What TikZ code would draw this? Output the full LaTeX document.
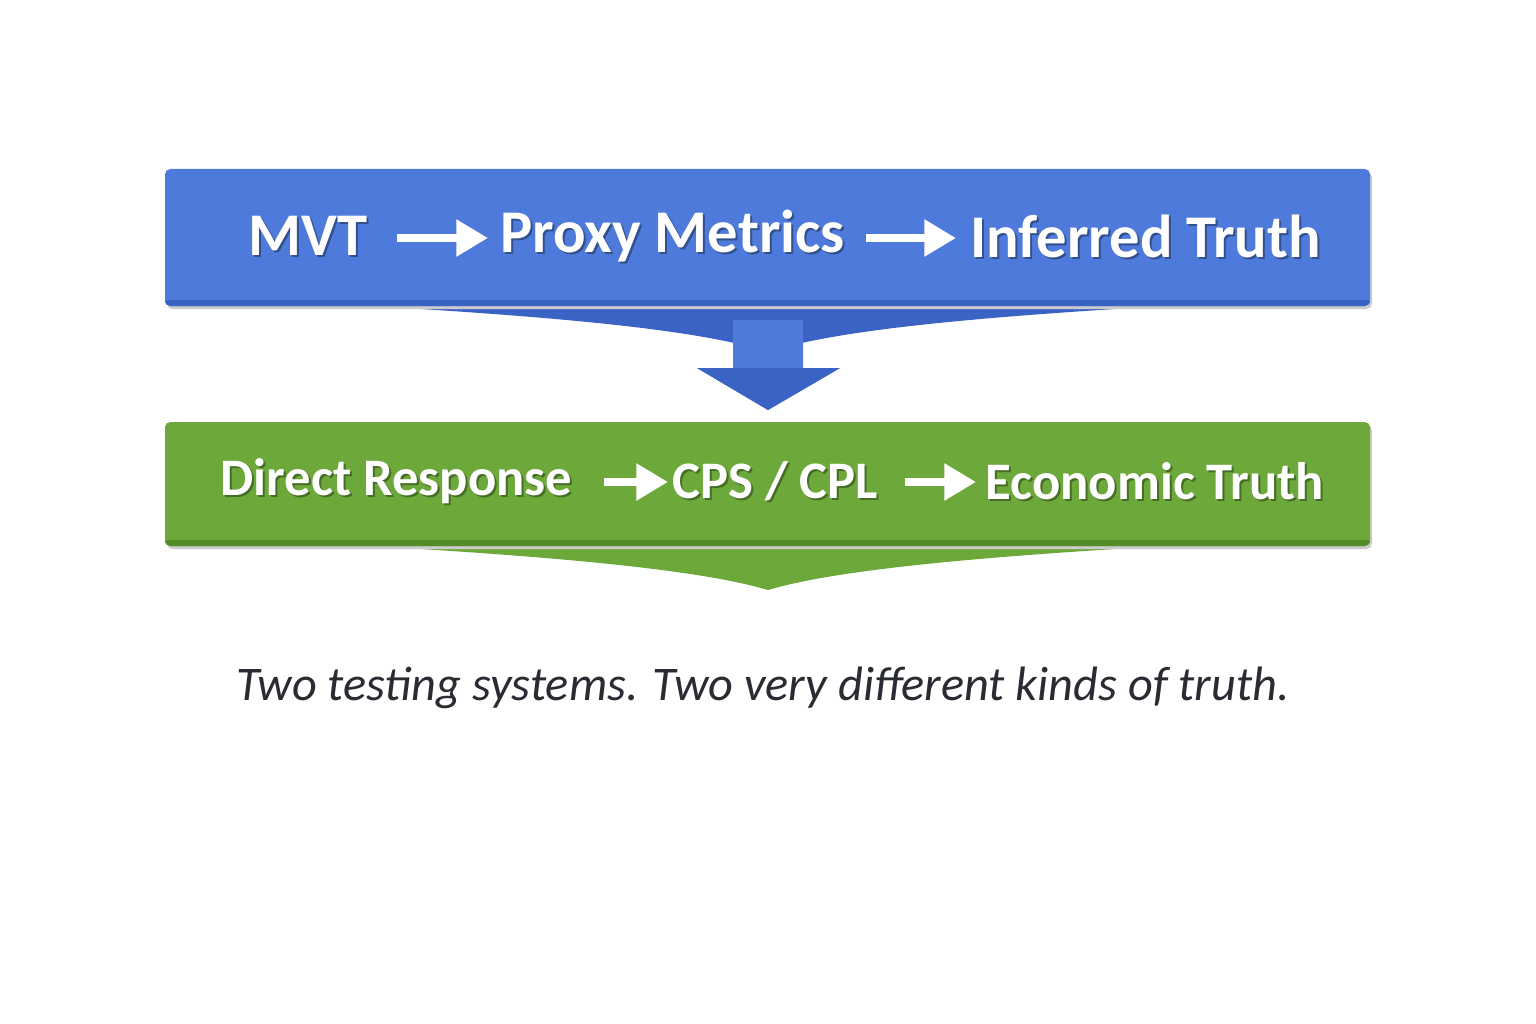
\documentclass[tikz,border=0pt]{standalone}
\usepackage{fontspec}
\setmainfont{Carlito}
\usetikzlibrary{arrows.meta}
\definecolor{bblue}{HTML}{4E7BDB}
\definecolor{bbluedark}{HTML}{3A63C4}
\definecolor{ggreen}{HTML}{6DA83A}
\definecolor{ggreendark}{HTML}{558C2A}
\definecolor{captc}{HTML}{2A2C33}
\tikzset{
  bt/.style={text=white,inner sep=0pt,anchor=west,font=\bfseries\fontsize{34.5}{40}\selectfont},
  gt/.style={text=white,inner sep=0pt,anchor=west,font=\bfseries\fontsize{30}{36}\selectfont},
  sh/.style={text=black,opacity=0.35},
  flow/.style={draw=white,line width=4.5pt,-{Triangle[length=18pt,width=20pt]}}
}
\begin{document}
\begin{tikzpicture}[x=0.02cm,y=-0.02cm]
\useasboundingbox (0,0) rectangle (1536,1024);
\fill[white] (0,0) rectangle (1536,1024);
% blue skirt
\fill[bbluedark] (260,300) .. controls (560,315) and (700,330) .. (768,352) .. controls (836,330) and (976,315) .. (1276,300) -- cycle;
% blue box
\fill[black!20,rounded corners=3] (167,172) rectangle (1372,309);
\fill[bblue,rounded corners=3] (165,169) rectangle (1370,306);
\fill[bbluedark,rounded corners=3] (165,298) rectangle (1370,306);
\fill[bblue] (165,292) rectangle (1370,300);
% down arrow
\fill[bblue] (733,320) -- (803,320) -- (803,368) -- (840,368) -- (768,410) -- (697,368) -- (733,368) -- cycle;
\fill[bbluedark] (697,368) -- (840,368) -- (768,410) -- cycle;
% green skirt
\fill[ggreen] (260,540) .. controls (560,555) and (700,570) .. (768,590) .. controls (836,570) and (976,555) .. (1276,540) -- cycle;
% green box
\fill[black!20,rounded corners=3] (167,425) rectangle (1372,549);
\fill[ggreen,rounded corners=3] (165,422) rectangle (1370,546);
\fill[ggreendark,rounded corners=3] (165,538) rectangle (1370,546);
\fill[ggreen] (165,532) rectangle (1370,540);
% blue texts
\foreach \dx/\st in {2/sh,0/} {
\node[bt,\st] at (248+\dx,236+\dx) {MVT};
\node[bt,\st] at (500+\dx,236+\dx) {Proxy Metrics};
\node[bt,\st] at (970+\dx,236+\dx) {Inferred Truth};
\node[gt,\st] at (220+\dx,481+\dx) {Direct Response};
\node[gt,\st] at (672+\dx,481+\dx) {CPS / CPL};
\node[gt,\st] at (985+\dx,481+\dx) {Economic Truth};
}
\coordinate (a1s) at (397,238); \coordinate (a1e) at (488,238);
\coordinate (a2s) at (866,238); \coordinate (a2e) at (956,238);
\coordinate (a3s) at (604,482); \coordinate (a3e) at (668,482);
\coordinate (a4s) at (905,482); \coordinate (a4e) at (976,482);
\draw[flow] (a1s) -- (a1e);
\draw[flow] (a2s) -- (a2e);
\draw[flow] (a3s) -- (a3e);
\draw[flow] (a4s) -- (a4e);
\node[text=captc,font=\itshape\fontsize{27.5}{32}\selectfont] (cap) at (763,688) {Two testing systems. Two very different kinds of truth.};
\end{tikzpicture}
\end{document}
